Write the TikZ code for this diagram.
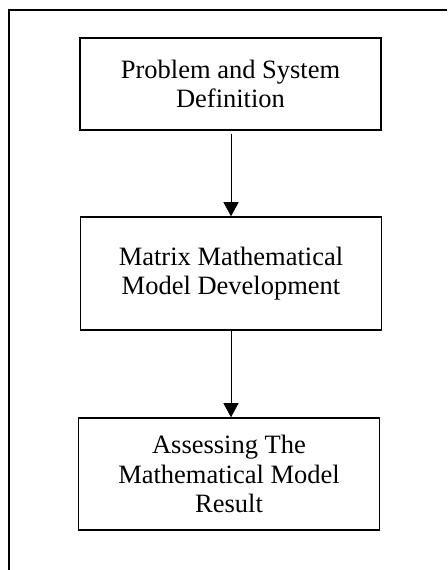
\documentclass[tikz,border=0pt]{standalone}
\usepackage{fontspec}
\setmainfont{Liberation Serif}
\usetikzlibrary{arrows.meta}

\begin{document}
\begin{tikzpicture}[x=1pt,y=1pt,
  stagebox/.style={draw,line width=1.5pt,rectangle,minimum width=301pt,
    align=center,font=\fontsize{26.5}{29.5}\selectfont,inner sep=0pt},
  flow/.style={line width=0.8pt,-{Triangle[length=14pt,width=15pt]}}]
\useasboundingbox (0,0) rectangle (447,570);

\draw[line width=1.5pt] (9,0) -- (9,560) -- (447,560);

\node[stagebox,minimum height=92pt] (problem) at (230.5,486) {Problem and System\\Definition};
\node[stagebox,minimum height=113pt] (matrix) at (231,296.5) {Matrix Mathematical\\Model Development};
\node[stagebox,minimum height=112pt] (assess) at (229,96) {Assessing The\\Mathematical Model\\Result};

\draw[flow] ([yshift=-3pt]problem.south -| matrix.north) -- (matrix.north);
\draw[flow] (matrix.south) -- (matrix.south |- assess.north);
\end{tikzpicture}
\end{document}
